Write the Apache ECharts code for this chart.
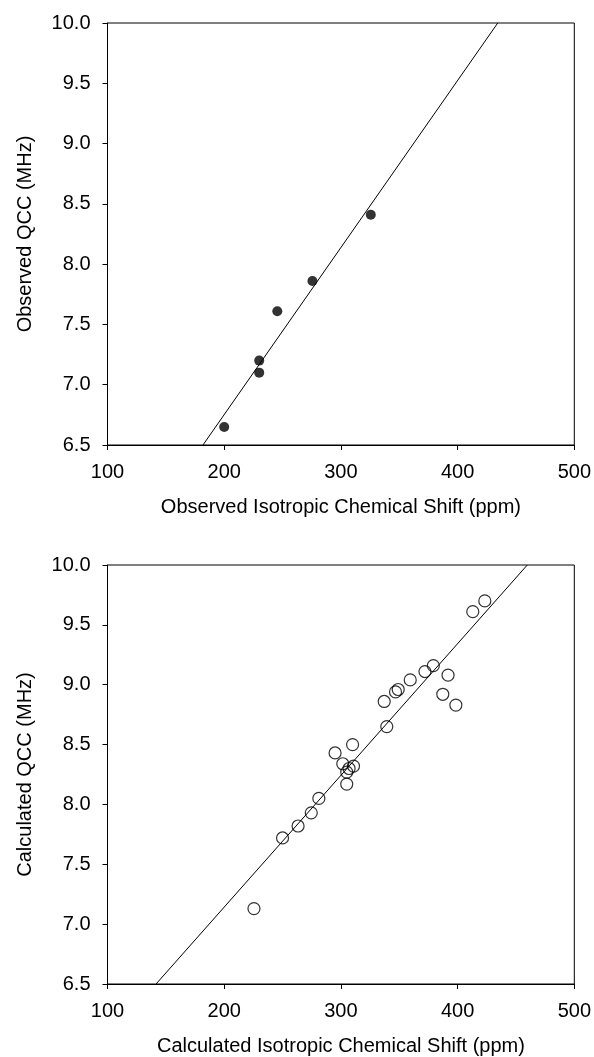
<!DOCTYPE html>
<html>
<head>
<meta charset="utf-8">
<script src="https://cdn.jsdelivr.net/npm/echarts@6/dist/echarts.min.js"></script>
<style>
  html, body { margin: 0; padding: 0; background: #fff; }
  #chart { width: 594px; height: 1057px; }
</style>
</head>
<body>
<div id="chart"></div>
<script>
// observed shifts (ppm) vs observed QCC (MHz)
var obsShift = [200, 230, 230, 245.5, 275.6, 325.6];
var obsQcc = [6.65, 7.20, 7.10, 7.61, 7.86, 8.41];
// fitted line ends, read where it meets the frame
var obsFitShift = [181.8, 434.4];
var obsFitQcc = [6.5, 10.0];

// calculated shifts (ppm) vs calculated QCC (MHz)
var calcShift = [225.5, 250, 263.3, 274.6, 281.1, 295, 301.6, 305, 305, 307, 310, 310.8,
  337.1, 339.3, 346.8, 349.1, 359.4, 372, 379.2, 391.8, 387.3, 398.5, 413, 423.3];
var calcQcc = [7.13, 7.72, 7.82, 7.93, 8.05, 8.43, 8.34, 8.27, 8.17, 8.30, 8.50, 8.32,
  8.86, 8.65, 8.94, 8.96, 9.04, 9.11, 9.16, 9.08, 8.92, 8.83, 9.61, 9.70];
var calcFitShift = [141.6, 459.7];
var calcFitQcc = [6.5, 10.0];

var xTicks = [100, 200, 300, 400, 500];
var yTicks = [6.5, 7.0, 7.5, 8.0, 8.5, 9.0, 9.5, 10.0];

var font = 'Liberation Sans, Arial, sans-serif';

function pairs(xs, ys) {
  return xs.map(function (x, i) { return [x, ys[i]]; });
}

function xAxis(idx, name, gap) {
  return {
    gridIndex: idx,
    type: 'value',
    min: xTicks[0],
    max: xTicks[xTicks.length - 1],
    interval: 100,
    name: name,
    nameLocation: 'middle',
    nameGap: gap,
    nameTextStyle: { color: '#000', fontSize: 20, fontFamily: font },
    axisLine: { show: true, lineStyle: { color: '#000', width: 1 } },
    axisTick: { show: true, inside: false, length: 5, lineStyle: { color: '#000' } },
    axisLabel: { color: '#000', fontSize: 20, fontFamily: font, margin: 17 },
    splitLine: { show: false }
  };
}

function yAxis(idx, name) {
  return {
    gridIndex: idx,
    type: 'value',
    min: yTicks[0],
    max: yTicks[yTicks.length - 1],
    interval: 0.5,
    name: name,
    nameLocation: 'middle',
    nameGap: 72,
    nameTextStyle: { color: '#000', fontSize: 20, fontFamily: font },
    axisLine: { show: true, lineStyle: { color: '#000', width: 1 } },
    axisTick: { show: true, inside: false, length: 5, lineStyle: { color: '#000' } },
    axisLabel: {
      color: '#000', fontSize: 20, fontFamily: font, margin: 17,
      formatter: function (v) { return v.toFixed(1); }
    },
    splitLine: { show: false }
  };
}

var myChart = echarts.init(document.getElementById('chart'));
var option = {
  animation: false,
  grid: [
    { left: 107.5, right: 19, top: 23, height: 422, show: true, borderColor: '#000', borderWidth: 1 },
    { left: 107.5, right: 19, top: 565, height: 421, show: true, borderColor: '#000', borderWidth: 1 }
  ],
  xAxis: [
    xAxis(0, 'Observed Isotropic Chemical Shift (ppm)', 52),
    xAxis(1, 'Calculated Isotropic Chemical Shift (ppm)', 52)
  ],
  yAxis: [
    yAxis(0, 'Observed QCC (MHz)'),
    yAxis(1, 'Calculated QCC (MHz)')
  ],
  series: [
    {
      type: 'line',
      xAxisIndex: 0, yAxisIndex: 0,
      data: pairs(obsFitShift, obsFitQcc),
      showSymbol: false,
      lineStyle: { color: '#000', width: 1 },
      clip: true
    },
    {
      type: 'scatter',
      xAxisIndex: 0, yAxisIndex: 0,
      data: pairs(obsShift, obsQcc),
      symbol: 'circle',
      symbolSize: 10,
      itemStyle: { color: '#000' }
    },
    {
      type: 'line',
      xAxisIndex: 1, yAxisIndex: 1,
      data: pairs(calcFitShift, calcFitQcc),
      showSymbol: false,
      lineStyle: { color: '#000', width: 1 },
      clip: true
    },
    {
      type: 'scatter',
      xAxisIndex: 1, yAxisIndex: 1,
      data: pairs(calcShift, calcQcc),
      symbol: 'circle',
      symbolSize: 12,
      itemStyle: { color: 'rgba(0,0,0,0)', borderColor: '#000', borderWidth: 1.2 }
    }
  ]
};
myChart.setOption(option);
</script>
</body>
</html>
